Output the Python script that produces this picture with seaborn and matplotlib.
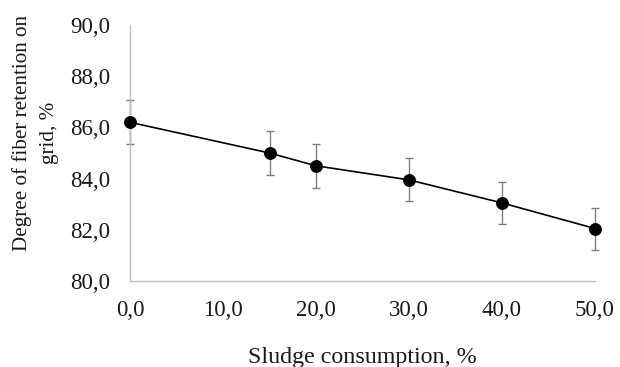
import matplotlib
matplotlib.use("Agg")
import matplotlib.pyplot as plt
import seaborn as sns
import pandas as pd
from matplotlib.ticker import FuncFormatter, MultipleLocator

sludge = [0, 15, 20, 30, 40, 50]
retention = [86.2, 85.0, 84.5, 83.95, 83.05, 82.05]
errors = [0.86, 0.85, 0.85, 0.84, 0.83, 0.82]

df = pd.DataFrame({"sludge": sludge, "retention": retention, "err": errors})

sns.set_style("white")
plt.rcParams["font.family"] = ["Liberation Serif", "DejaVu Serif"]

fig = plt.figure(figsize=(6.2, 3.67), dpi=100)
ax = fig.add_axes([130 / 620, 1 - 281 / 367, (595 - 130) / 620, (281 - 25) / 367])

eb = ax.errorbar(df["sludge"], df["retention"], yerr=df["err"], fmt="none",
                 ecolor="#7f7f7f", elinewidth=1.0, capsize=2.6, capthick=1.0, zorder=2)
for art in eb.lines[1]:
    art.set_clip_on(False)
for art in eb.lines[2]:
    art.set_clip_on(False)
sns.lineplot(data=df, x="sludge", y="retention", ax=ax, color="black",
             linewidth=1.2, marker="o", markersize=8.5, markeredgecolor="black",
             markerfacecolor="black", zorder=3, clip_on=False)

ax.set_xlim(0, 50)
ax.set_ylim(80, 90)
ax.xaxis.set_major_locator(MultipleLocator(10))
ax.yaxis.set_major_locator(MultipleLocator(2))
fmt = FuncFormatter(lambda v, p: f"{v:.1f}".replace(".", ","))
ax.xaxis.set_major_formatter(fmt)
ax.yaxis.set_major_formatter(fmt)
ax.tick_params(axis="both", length=0, labelsize=16.5, colors="#1a1a1a")
ax.tick_params(axis="x", pad=14)
ax.tick_params(axis="y", pad=14)

for s in ["top", "right"]:
    ax.spines[s].set_visible(False)
for s in ["left", "bottom"]:
    ax.spines[s].set_color("#bfbfbf")
    ax.spines[s].set_linewidth(1.0)

ax.set_xlabel("Sludge consumption, %", fontsize=17.3, color="#1a1a1a", va="baseline")
ax.xaxis.set_label_coords(0.5, (281 - 363) / 256)
ax.set_ylabel("Degree of fiber retention on\ngrid, %", fontsize=15.2,
              color="#1a1a1a", linespacing=1.55)
ax.yaxis.set_label_coords((59 - 130) / 465, (281 - 133) / 256)

fig.savefig("out.png", dpi=100)
